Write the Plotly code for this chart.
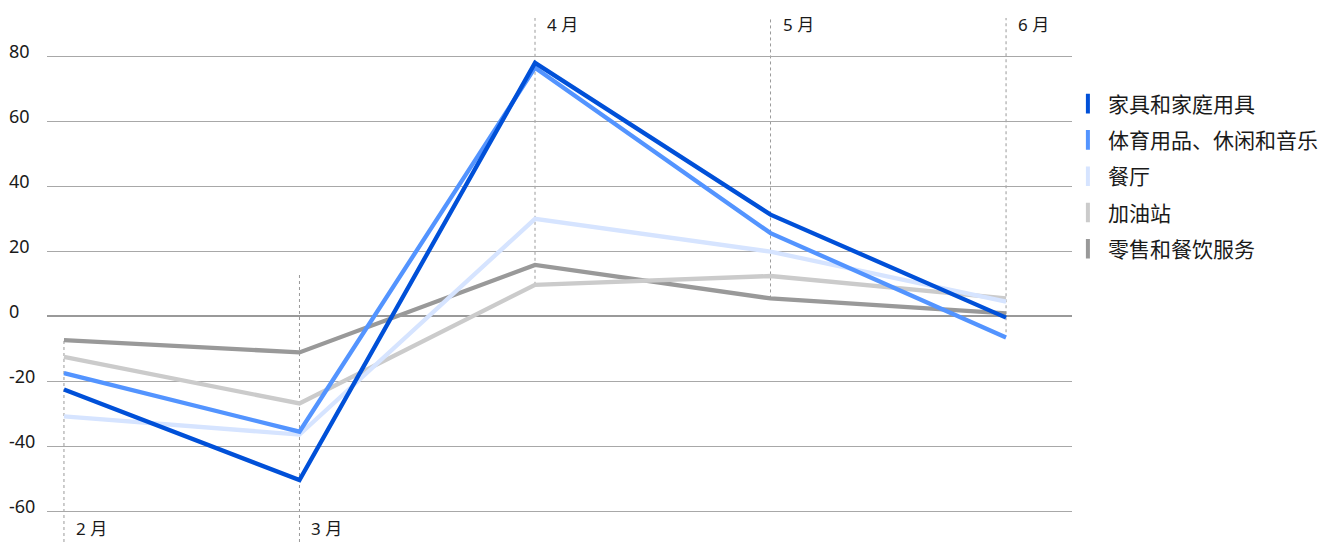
import plotly.graph_objects as go

# ---- data ----
months = ["2 月", "3 月", "4 月", "5 月", "6 月"]
series_names = ["家具和家庭用具", "体育用品、休闲和音乐", "餐厅", "加油站", "零售和餐饮服务"]
furniture = [-22.6, -50.5, 77.9, 31.2, -0.5]
sporting = [-17.6, -35.6, 76.4, 25.5, -6.6]
restaurants = [-30.9, -36.5, 29.9, 19.8, 4.4]
gas_stations = [-12.6, -26.9, 9.6, 12.3, 5.4]
retail_food = [-7.4, -11.2, 15.7, 5.4, 0.8]
y_ticks = [-60, -40, -20, 0, 20, 40, 60, 80]

series_values = [furniture, sporting, restaurants, gas_stations, retail_food]
colors = ["#0050d8", "#5394ff", "#d6e4ff", "#cbcbcb", "#999999"]

# month-label placement: which labels sit at the bottom, which at the top
label_at_bottom = [True, True, False, False, False]

X_RANGE = [-0.072, 4.28]
Y_RANGE = [-69.54, 97.23]
TOP_GUIDE = 91.7

FONT = "Noto Sans, Noto Sans CJK SC, sans-serif"

fig = go.Figure()
xs = list(range(len(months)))

# draw order: greys first, dark blue on top
order = [4, 3, 2, 1, 0]
for i in order:
    fig.add_trace(go.Scatter(
        x=xs, y=series_values[i], mode="lines",
        line=dict(color=colors[i], width=4.3),
        showlegend=False, hoverinfo="skip", name=series_names[i]))

# legend entries (vertical bar symbols)
for i, n in enumerate(series_names):
    fig.add_trace(go.Scatter(
        x=[None], y=[None], mode="markers", name=n, legendgroup=n,
        marker=dict(symbol="line-ns", size=14, color=colors[i],
                    line=dict(width=4, color=colors[i]))))

# dotted month guides
shapes = []
for k, m in enumerate(months):
    col = [s[k] for s in series_values]
    if label_at_bottom[k]:
        top = max(col) if k == 0 else 13.2
        y0, y1 = Y_RANGE[0], top
    else:
        bottom = min(col) if k < 4 else -5.0
        y0, y1 = bottom, TOP_GUIDE
    shapes.append(dict(type="line", xref="x", yref="y", x0=k, x1=k, y0=y0, y1=y1,
                       line=dict(color="#9a9a9a", width=1, dash="dot"), layer="below"))

annotations = []
for k, m in enumerate(months):
    if label_at_bottom[k]:
        pos = dict(y=0, yanchor="bottom")
    else:
        pos = dict(y=0.954, yanchor="middle")
    annotations.append(dict(
        x=k, xref="x", yref="paper", **pos,
        text=m, showarrow=False, xanchor="left", xshift=10,
        font=dict(family=FONT, size=17, color="#1a1a1a")))

for t in y_ticks:
    annotations.append(dict(
        x=0, xref="paper", xshift=-40, y=t, yref="y", yshift=5,
        text=str(t), showarrow=False, xanchor="left", yanchor="middle",
        font=dict(family=FONT, size=18, color="#1a1a1a")))

fig.update_layout(
    width=1321, height=542,
    margin=dict(l=47, r=249, t=0, b=0, autoexpand=False),
    paper_bgcolor="white", plot_bgcolor="white",
    font=dict(family=FONT, color="#1a1a1a"),
    xaxis=dict(range=X_RANGE, showgrid=False, zeroline=False, showticklabels=False,
               showline=False, fixedrange=True),
    yaxis=dict(range=Y_RANGE, tickvals=y_ticks, showticklabels=False,
               showgrid=True, gridcolor="#a8a8a8", gridwidth=1,
               zeroline=True, zerolinecolor="#999999", zerolinewidth=2,
               showline=False, fixedrange=True),
    legend=dict(x=0.996, xanchor="left", y=0.846, yanchor="top",
                font=dict(family=FONT, size=21, color="#1a1a1a"),
                tracegroupgap=6, bgcolor="rgba(0,0,0,0)"),
    shapes=shapes,
    annotations=annotations,
    hovermode=False,
)

fig.write_html("out.html")
